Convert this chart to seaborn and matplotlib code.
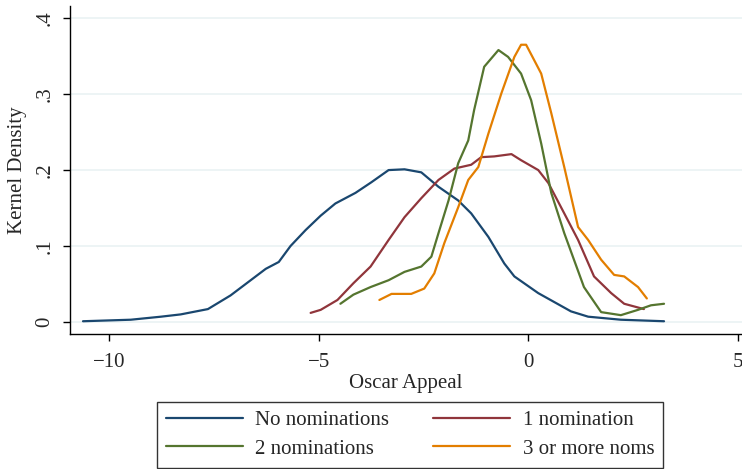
import numpy as np
import pandas as pd
import matplotlib
matplotlib.use("Agg")
import matplotlib.pyplot as plt
import seaborn as sns

# --- data (x = Oscar Appeal, y = kernel density) ---
no_x = [-10.62, -9.48, -8.76, -8.29, -7.64, -7.10, -6.62, -6.26, -5.95, -5.67, -5.31, -4.95,
        -4.60, -4.12, -3.74, -3.33, -2.95, -2.55, -2.14, -1.67, -1.36, -0.95, -0.57, -0.33,
        0.24, 1.02, 1.43, 2.21, 3.24]
no_y = [0.001, 0.003, 0.007, 0.010, 0.017, 0.035, 0.055, 0.070, 0.079, 0.100, 0.121, 0.140,
        0.156, 0.170, 0.184, 0.200, 0.201, 0.197, 0.178, 0.160, 0.143, 0.112, 0.077, 0.060,
        0.038, 0.014, 0.007, 0.003, 0.001]

one_x = [-5.19, -4.95, -4.55, -4.17, -3.76, -3.33, -2.95, -2.55, -2.14, -1.76, -1.36, -1.12,
         -0.81, -0.40, -0.17, 0.24, 0.48, 0.86, 1.19, 1.57, 1.98, 2.29, 2.76]
one_y = [0.012, 0.016, 0.029, 0.051, 0.073, 0.108, 0.138, 0.163, 0.187, 0.202, 0.207, 0.217,
         0.218, 0.221, 0.213, 0.200, 0.183, 0.143, 0.108, 0.060, 0.038, 0.024, 0.017]

two_x = [-4.48, -4.17, -3.76, -3.33, -2.95, -2.55, -2.31, -2.14, -1.90, -1.67, -1.43, -1.29,
         -1.05, -0.71, -0.48, -0.17, 0.07, 0.31, 0.55, 0.86, 1.33, 1.74, 2.21, 2.62, 2.93, 3.24]
two_y = [0.024, 0.036, 0.046, 0.055, 0.066, 0.073, 0.086, 0.117, 0.160, 0.209, 0.239, 0.279,
         0.336, 0.358, 0.349, 0.327, 0.292, 0.235, 0.170, 0.117, 0.046, 0.013, 0.009, 0.016,
         0.022, 0.024]

three_x = [-3.55, -3.26, -2.79, -2.48, -2.24, -2.00, -1.67, -1.43, -1.19, -0.95, -0.64, -0.33,
           -0.17, -0.05, 0.14, 0.31, 0.55, 0.86, 1.19, 1.43, 1.74, 2.05, 2.29, 2.62, 2.83]
three_y = [0.029, 0.037, 0.037, 0.044, 0.064, 0.104, 0.151, 0.187, 0.204, 0.248, 0.301, 0.349,
           0.365, 0.365, 0.345, 0.327, 0.275, 0.204, 0.125, 0.108, 0.082, 0.062, 0.060, 0.046,
           0.031]

groups = ["No nominations", "1 nomination", "2 nominations", "3 or more noms"]
colors = ["#1a476f", "#90353b", "#55752f", "#e37e00"]
x_ticks = [-10, -5, 0, 5]
x_labels = ["\u221210", "\u22125", "0", "5"]
y_ticks = [0, 0.1, 0.2, 0.3, 0.4]
y_labels = ["0", ".1", ".2", ".3", ".4"]

frames = []
for g, xs, ys in zip(groups, [no_x, one_x, two_x, three_x], [no_y, one_y, two_y, three_y]):
    frames.append(pd.DataFrame({"x": xs, "y": ys, "group": g}))
df = pd.concat(frames, ignore_index=True)

sns.set_theme(style="white")
plt.rcParams["font.family"] = ["Liberation Serif", "DejaVu Serif"]

FS = 15
fig = plt.figure(figsize=(7.42, 4.69), dpi=100)
ax = fig.add_axes([70 / 742, (469 - 334) / 469, (742 - 70) / 742, (334 - 6) / 469])

sns.lineplot(data=df, x="x", y="y", hue="group", hue_order=groups,
             palette=dict(zip(groups, colors)), linewidth=1.6, sort=False,
             estimator=None, ax=ax, legend=True)

ax.set_xlim(-10.93, 5.1)
ax.set_ylim(-0.0158, 0.416)
ax.set_xticks(x_ticks)
ax.set_xticklabels(x_labels, fontsize=FS)
ax.set_yticks(y_ticks)
ax.set_yticklabels(y_labels, fontsize=FS, rotation=90, va="center")
for t in y_ticks:
    ax.axhline(t, color="#eaf2f3", lw=1.2, zorder=0)
ax.grid(False)
ax.set_xlabel("Oscar Appeal", fontsize=FS, labelpad=1)
ax.set_ylabel("Kernel Density", fontsize=FS, labelpad=6)
for s in ["top", "right"]:
    ax.spines[s].set_visible(False)
for s in ["left", "bottom"]:
    ax.spines[s].set_color("black")
    ax.spines[s].set_linewidth(1.0)
ax.tick_params(axis="x", direction="out", length=5, width=1, color="black",
               bottom=True, pad=9)
ax.tick_params(axis="y", direction="out", length=5, width=1, color="black",
               left=True, pad=6)

h, l = ax.get_legend_handles_labels()
ax.get_legend().remove()
order = [0, 2, 1, 3]  # row-major filling like the reference
leg = fig.legend([h[i] for i in order], [l[i] for i in order], ncol=2, loc="lower center",
                 bbox_to_anchor=(410 / 742, 1.5 / 469), borderaxespad=0,
                 fontsize=FS, frameon=True, fancybox=False, edgecolor="black",
                 handlelength=3.7, columnspacing=2.1, borderpad=0.42, labelspacing=0.42,
                 handletextpad=0.6)
leg.get_frame().set_linewidth(1.0)

fig.savefig("out.png", dpi=100, facecolor="white")
